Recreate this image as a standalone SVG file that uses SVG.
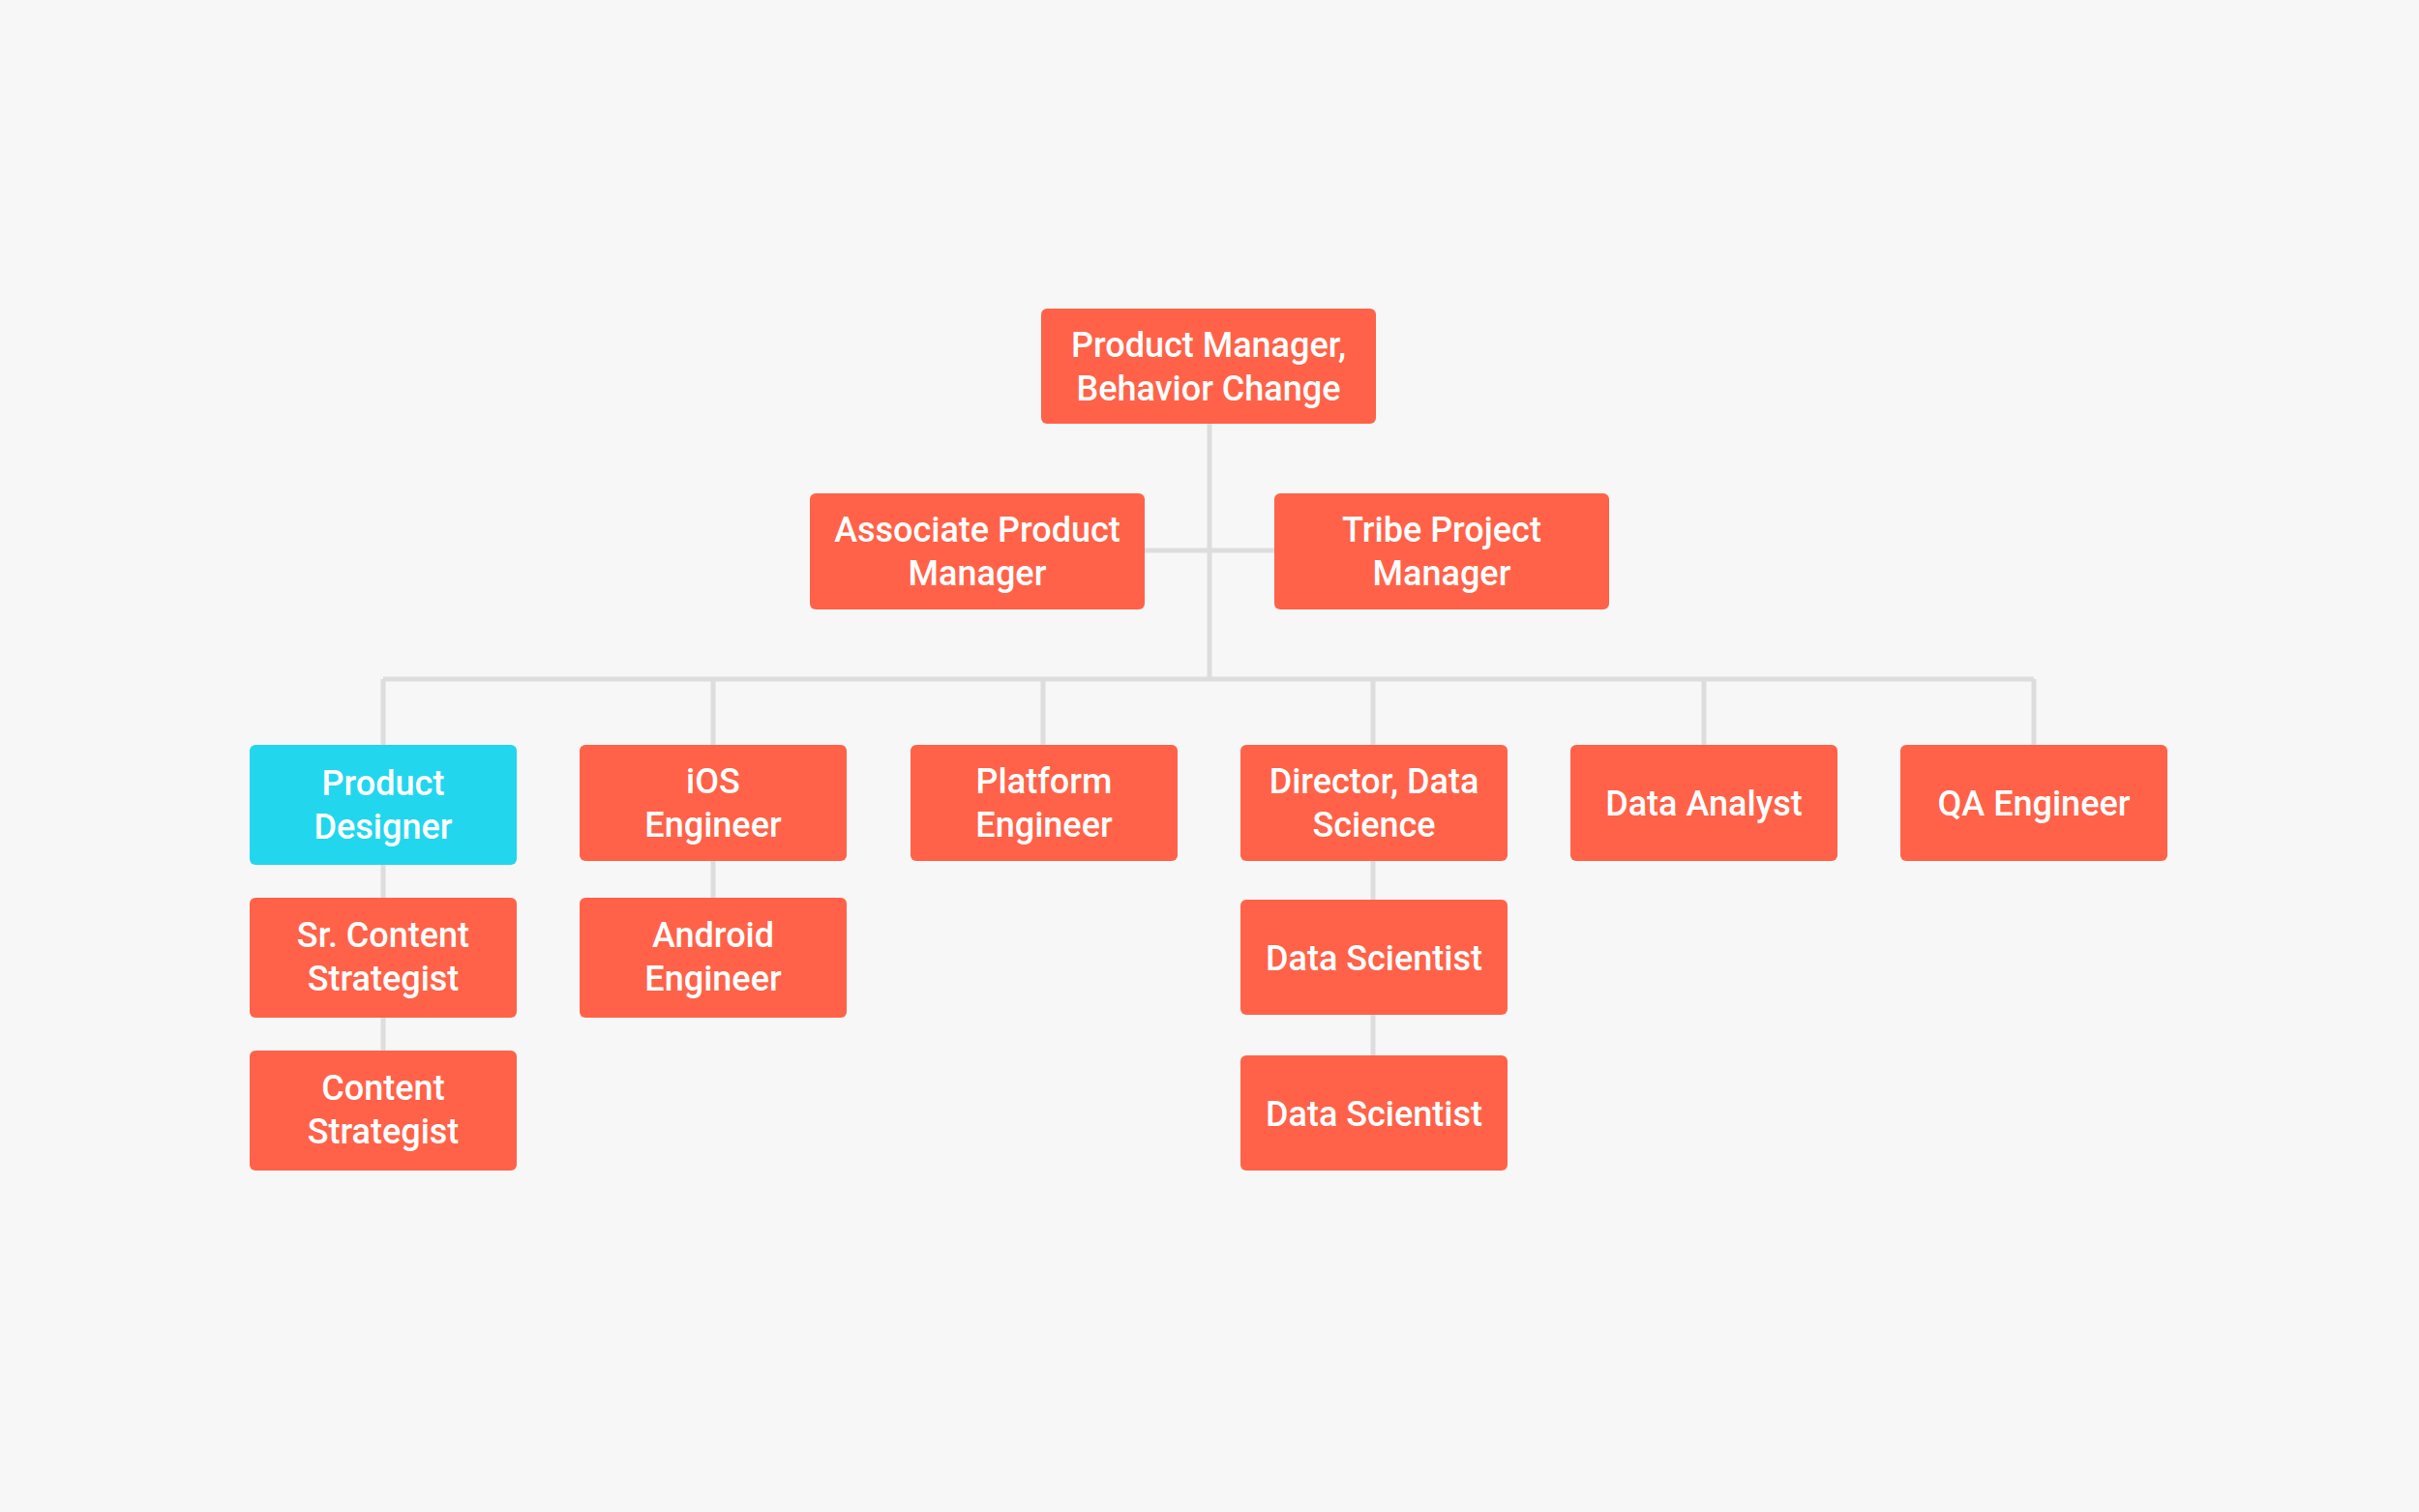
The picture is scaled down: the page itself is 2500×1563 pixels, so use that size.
<svg xmlns="http://www.w3.org/2000/svg" width="2500" height="1563" viewBox="0 0 2500 1563">
<style>
.n{fill:#FF6248}
.c{fill:#22D6EE}
.t{font-family:Roboto,"Liberation Sans",sans-serif;font-weight:500;font-size:36px;fill:#fff;text-anchor:middle}
.l{stroke:#DDDDDD;stroke-width:5;fill:none}
</style>
<rect width="2500" height="1563" fill="#F7F7F7"/>
<g id="connectors">
<path class="l" d="M1250 438V702M1183 569H1317M396 702H2102M396 702V770M737 702V770M1078 702V770M1419 702V770M1761 702V770M2102 702V770M396 894V928M396 1052V1086M737 890V928M1419 890V930M1419 1049V1091"/>
</g>
<g id="pm"><rect class="n" x="1076" y="319" width="346" height="119" rx="6"/><text class="t" x="1249" y="369">Product Manager,</text><text class="t" x="1249" y="414">Behavior Change</text></g>
<g id="apm"><rect class="n" x="837" y="510" width="346" height="120" rx="6"/><text class="t" x="1010" y="560">Associate Product</text><text class="t" x="1010" y="605">Manager</text></g>
<g id="tpm"><rect class="n" x="1317" y="510" width="346" height="120" rx="6"/><text class="t" x="1490" y="560">Tribe Project</text><text class="t" x="1490" y="605">Manager</text></g>
<g id="pd"><rect class="c" x="258" y="770" width="276" height="124" rx="6"/><text class="t" x="396" y="822">Product</text><text class="t" x="396" y="867">Designer</text></g>
<g id="ios"><rect class="n" x="599" y="770" width="276" height="120" rx="6"/><text class="t" x="737" y="820">iOS</text><text class="t" x="737" y="865">Engineer</text></g>
<g id="plat"><rect class="n" x="941" y="770" width="276" height="120" rx="6"/><text class="t" x="1079" y="820">Platform</text><text class="t" x="1079" y="865">Engineer</text></g>
<g id="dir"><rect class="n" x="1282" y="770" width="276" height="120" rx="6"/><text class="t" x="1420" y="820">Director, Data</text><text class="t" x="1420" y="865">Science</text></g>
<g id="da"><rect class="n" x="1623" y="770" width="276" height="120" rx="6"/><text class="t" x="1761" y="843">Data Analyst</text></g>
<g id="qa"><rect class="n" x="1964" y="770" width="276" height="120" rx="6"/><text class="t" x="2102" y="843">QA Engineer</text></g>
<g id="scs"><rect class="n" x="258" y="928" width="276" height="124" rx="6"/><text class="t" x="396" y="979">Sr. Content</text><text class="t" x="396" y="1024">Strategist</text></g>
<g id="cs"><rect class="n" x="258" y="1086" width="276" height="124" rx="6"/><text class="t" x="396" y="1137">Content</text><text class="t" x="396" y="1182">Strategist</text></g>
<g id="and"><rect class="n" x="599" y="928" width="276" height="124" rx="6"/><text class="t" x="737" y="979">Android</text><text class="t" x="737" y="1024">Engineer</text></g>
<g id="ds1"><rect class="n" x="1282" y="930" width="276" height="119" rx="6"/><text class="t" x="1420" y="1003">Data Scientist</text></g>
<g id="ds2"><rect class="n" x="1282" y="1091" width="276" height="119" rx="6"/><text class="t" x="1420" y="1164">Data Scientist</text></g>
</svg>
